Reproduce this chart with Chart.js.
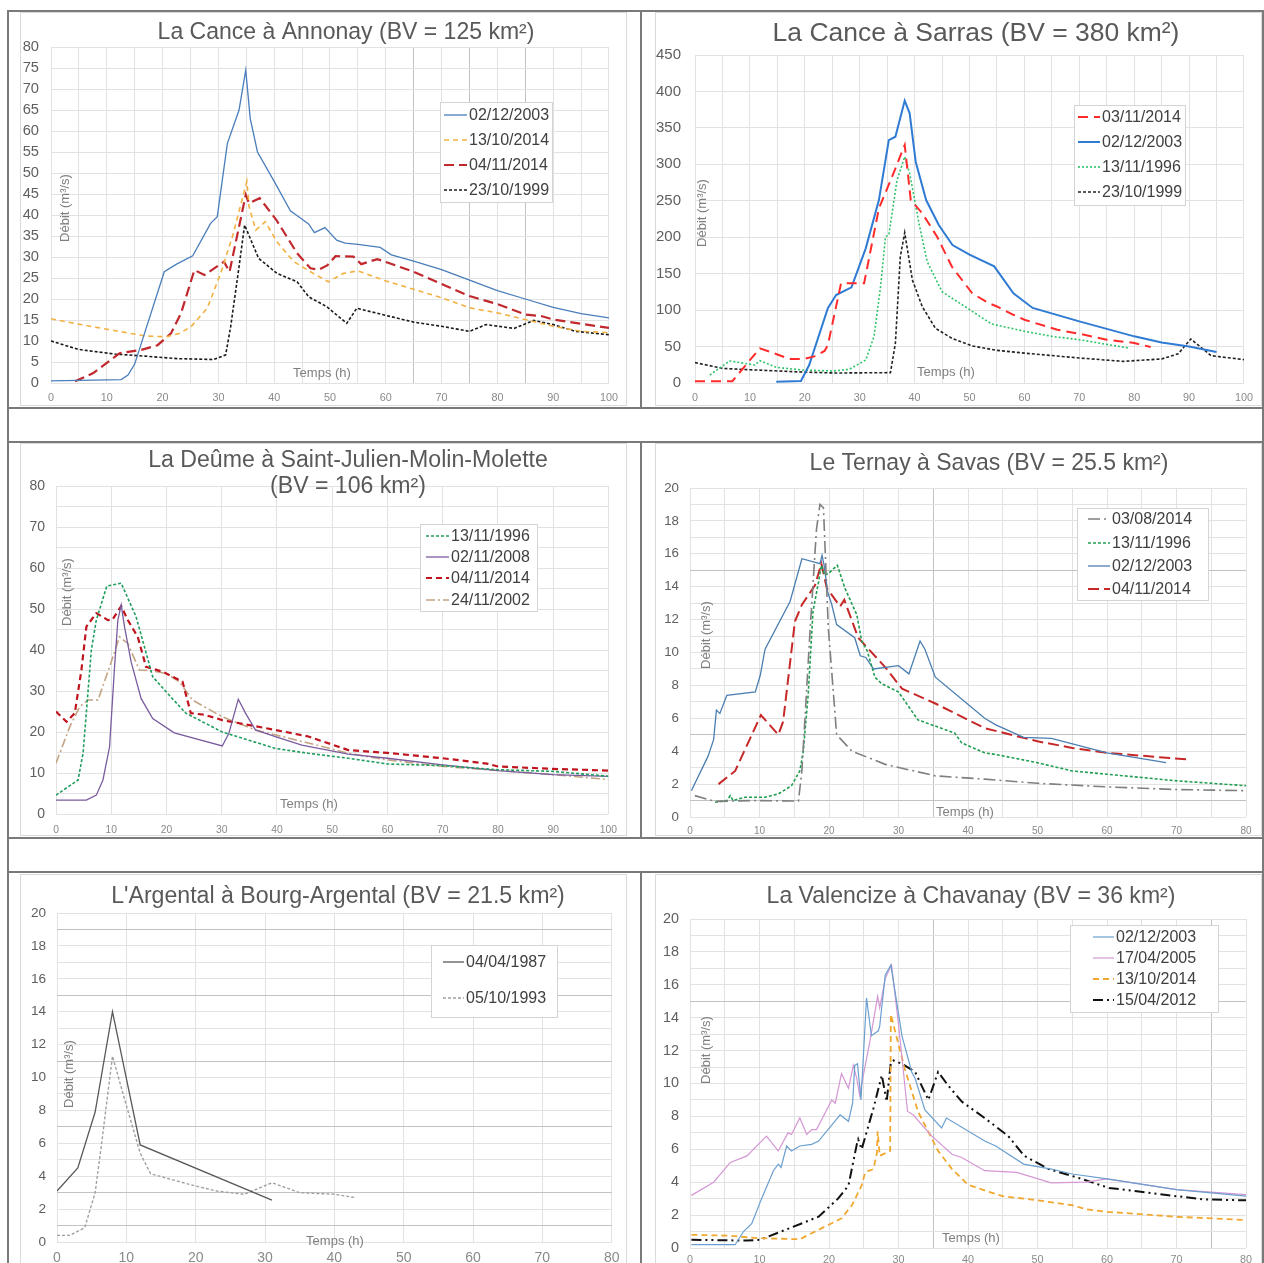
<!DOCTYPE html>
<html>
<head>
<meta charset="utf-8">
<script src="https://cdn.jsdelivr.net/npm/chart.js@4.4.1/dist/chart.umd.min.js"></script>
<style>
  html, body { margin: 0; padding: 0; background: #fff; }
  body { width: 1264px; height: 1263px; overflow: hidden; position: relative; }
  .rule { position: absolute; background: #7a7a7a; }
  .frame { position: absolute; border: 1px solid #dadada; box-sizing: border-box; }
  canvas { position: absolute; }
</style>
</head>
<body>
<div class="rule" style="left:7px;top:10px;width:1257px;height:2px"></div>
<div class="rule" style="left:7px;top:407px;width:1257px;height:2px"></div>
<div class="rule" style="left:7px;top:441px;width:1257px;height:2px"></div>
<div class="rule" style="left:7px;top:837px;width:1257px;height:2px"></div>
<div class="rule" style="left:7px;top:871px;width:1257px;height:2px"></div>
<div class="rule" style="left:7px;top:10px;width:2px;height:1253px"></div>
<div class="rule" style="left:1262px;top:10px;width:2px;height:1253px"></div>
<div class="rule" style="left:640px;top:10px;width:2px;height:399px"></div>
<div class="rule" style="left:640px;top:441px;width:2px;height:398px"></div>
<div class="rule" style="left:640px;top:871px;width:2px;height:392px"></div>

<canvas id="c1"></canvas>
<canvas id="c2"></canvas>
<canvas id="c3"></canvas>
<canvas id="c4"></canvas>
<canvas id="c5"></canvas>
<canvas id="c6"></canvas>

<script>
// --- La Cance à Annonay : [temps (h), débit (m3/s)]
const annonayDates = ['02/12/2003', '13/10/2014', '04/11/2014', '23/10/1999'];
const annonay2003 = [[0,0.5],[12.6,0.8],[13.8,1.9],[15,4.5],[20.3,26.5],[22.5,28.3],[25.4,30.3],[28.6,38],[29.8,39.6],[31.6,57],[33.7,65],[34.9,74.5],[35.7,63],[37,55],[40,48],[42.9,41],[45,39],[46.2,37.8],[47.2,35.8],[49.1,37],[51.2,34],[52.7,33.3],[55,33],[59,32.3],[61,30.5],[65,29],[70,27],[75,24.5],[80,22],[85,20],[90,18],[95,16.5],[100,15.5]];
const annonay2014oct = [[0,15.3],[5,14],[10,12.8],[16.8,11.2],[20.6,11],[23,11.8],[25.1,13.4],[28,17.8],[30.4,26.1],[32.5,34.8],[35.1,48],[35.5,42],[36.7,36.4],[38.4,38.4],[40.5,33.6],[43.5,28.9],[46.5,26.5],[49.7,24.1],[52.4,26.1],[55,26.7],[60,24.3],[65,22.3],[70,20.3],[75,17.9],[80,16.7],[85,15.1],[90,13.5],[95,12.3],[100,12]];
const annonay2014nov = [[4.3,0.4],[7.5,2.3],[12.3,7.1],[16.2,7.9],[19.1,9],[21.5,11.8],[23.3,16.6],[25.7,26.9],[27.5,25.7],[31,28.9],[32,26.5],[34.9,44.8],[35.5,42.8],[37.4,44],[40.4,38.8],[44.1,30.9],[46.5,27.3],[48,27],[49.5,28],[51,30.2],[54.2,30.1],[55.6,28.3],[58.5,29.5],[65,26.5],[70,23.6],[75,20.7],[80,18.8],[85,16.3],[88,15.9],[90,15.1],[100,13.1]];
const annonay1999 = [[0,10],[4.9,8],[11.4,6.9],[16.8,6.4],[22.7,5.8],[29.2,5.6],[31.3,6.7],[32.2,13.4],[33.7,27.7],[34.7,37.6],[37.2,29.7],[40.5,26.1],[44.1,24.1],[46.2,20.5],[49.4,18.2],[53,14.2],[54.8,17.8],[60,16.1],[65,14.5],[70,13.5],[75,12.3],[78,13.9],[83,13],[86.5,14.9],[90,13.9],[94,12.3],[100,11.5]];

// --- La Cance à Sarras
const sarrasDates = ['03/11/2014', '02/12/2003', '13/11/1996', '23/10/1999'];
const sarras2014 = [[0,2.5],[6.8,2.5],[11.8,47.6],[13.6,43],[17.2,33],[19.9,33],[22,37],[23.6,44],[24.2,52],[26.6,136.7],[30.8,136.7],[33.5,239.6],[35.9,283],[38.2,326.5],[39.3,251],[41.4,232.8],[44.1,200.7],[46.8,159.5],[50.5,123],[53.4,110],[55,105],[58,93.6],[60,86.8],[66,73],[70,67.6],[75,59.4],[80,55],[83,49.3]];
const sarras2003 = [[14.8,1.8],[19.3,2.7],[20.8,24.7],[24.2,102.5],[25.7,120.7],[28.5,131.2],[31.1,184.7],[33.5,251],[35.3,333.3],[36.5,337.9],[38.2,387.3],[39.1,370],[40.2,303.6],[42.1,251],[44.4,216.7],[46.9,189.3],[50,176],[54.5,160],[58,123],[61.5,103],[70,84.5],[80,64],[85,55.7],[90,50],[95,42.5]];
const sarras1996 = [[2.7,11],[6.3,30.2],[10.9,24.7],[11.8,30.6],[14.8,21.5],[19.6,17.8],[25.1,16.5],[28.1,18.8],[31.1,31.5],[32.6,63.5],[33.8,132],[34.7,200.7],[35.3,203],[36.8,278.5],[38.2,310.5],[39.1,287.6],[40.8,219],[42.3,166.4],[45,125.2],[49.2,104.7],[54,81],[60,71],[65,64],[70,59.4],[75,53],[79,48]];
const sarras1999 = [[0,28],[5.1,20],[11.2,17.8],[19.6,15],[25.6,13.7],[35.6,14.2],[36.5,54.5],[37.4,173.4],[38.2,206.3],[39.6,141.3],[41.4,104.7],[43.8,75],[46.8,61.3],[50.5,50.8],[55,44.8],[60,41],[70,34.3],[78,29.7],[85,33],[88,40],[90.3,60.3],[92,50],[94,37.5],[100,32]];

// --- La Deûme à Saint-Julien-Molin-Molette
const deumeDates = ['13/11/1996', '02/11/2008', '04/11/2014', '24/11/2002'];
const deume1996 = [[0,4.6],[4,8.3],[4.9,14.8],[6.4,40],[7.3,47.3],[9.2,55.6],[11.8,56.3],[14.5,48.1],[17.5,33.5],[20.2,29.4],[23.5,24.6],[30.1,20],[34.9,18],[39.7,16],[45.7,14.8],[52.9,13.6],[60,12.2],[70,11.8],[80,10.8],[90,10.4],[100,9.2]];
const deume2008 = [[0,3.4],[5.5,3.4],[7.3,4.6],[8.5,8.3],[9.7,16.4],[10.6,35.9],[11.2,47.3],[11.8,51],[12.4,45.7],[13.6,37.1],[15.4,28.2],[17.5,23.3],[21.4,19.8],[30.1,16.6],[31.3,19.7],[33,28],[34.3,24.6],[36.1,20.5],[39.7,18.9],[44.5,16.8],[52.9,14.6],[60,13.6],[70,12],[80,10.6],[90,9.6],[100,9.2]];
const deume2014 = [[0,25],[1.9,22.5],[3.4,24.6],[4.6,35.1],[5.5,45.7],[7.3,49],[9.4,47.3],[10.2,47.4],[11.8,50.7],[13,47.3],[14.8,43.2],[16.3,35.9],[19.3,34.7],[22.9,32.3],[24.4,24.6],[26.9,24.2],[30.1,22.9],[39.7,20.5],[45.7,18.9],[52.9,15.6],[60,14.9],[70,13.6],[78,12.3],[80,11.6],[90,11],[100,10.6]];
const deume2002 = [[0,12.4],[2.5,21.3],[4.3,26.2],[5.8,27.8],[7.6,27.8],[9.7,35.9],[11.5,43.2],[13,41.6],[15.1,35.1],[16.9,35],[19.9,34.3],[22.3,32.3],[24.7,27.8],[30.1,23.7],[36.1,20.5],[45.7,17.3],[52.9,14.8],[60,13.2],[70,11.6],[80,10.6],[90,9.6],[100,8.4]];

// --- Le Ternay à Savas
const ternayDates = ['03/08/2014', '13/11/1996', '02/12/2003', '04/11/2014'];
const ternay2014aug = [[0.7,1.3],[3.6,0.95],[8.9,1],[15.6,0.97],[16.1,2.8],[17.3,11.5],[18.2,17.5],[18.7,19],[19.2,18.8],[19.9,11.5],[21.1,5],[23.3,4],[28.1,3.2],[35.3,2.5],[42.4,2.3],[50,2.05],[60,1.83],[70,1.67],[80,1.6]];
const ternay1996 = [[3.6,0.9],[5.3,1],[5.8,1.3],[6.2,1],[7.9,1.2],[10.8,1.2],[12.7,1.4],[14.6,1.9],[15.8,2.8],[16.3,4],[17,7.4],[17.7,12.5],[18.5,14.3],[18.9,15.3],[19.4,14.7],[19.9,14.8],[21.2,15.3],[22.3,13.9],[24,12.3],[24.7,10.7],[25.5,10.1],[26.6,8.5],[27.6,8.1],[30,7.6],[32.8,5.9],[34.8,5.6],[38.1,5.1],[39.1,4.5],[42.4,3.9],[44,3.8],[50,3.3],[55,2.8],[60,2.6],[70,2.2],[80,1.9]];
const ternay2003 = [[0.2,1.6],[2.6,3.7],[3.4,4.7],[3.8,6.5],[4.3,6.3],[5.3,7.4],[9.4,7.6],[10.1,8.6],[10.8,10.2],[14.4,13.1],[16.1,15.7],[18.7,15.4],[19,15.9],[19.3,15.3],[19.8,13.7],[20.4,12.9],[21.1,11.7],[23.7,10.9],[24.5,9.8],[25.3,9.7],[26.4,9],[30,9.2],[31.5,8.7],[33.1,10.7],[33.8,10.2],[35.3,8.5],[42.4,6],[44,5.6],[48,4.84],[52,4.78],[60,3.9],[68.5,3.3]];
const ternay2014nov = [[4.1,2],[6.5,2.8],[10.2,6.2],[12.7,5],[13.4,5.8],[15.1,11.9],[16.1,12.9],[18,14.1],[18.9,15.4],[19.7,13.9],[21.6,12.8],[22.2,13.2],[24.2,10.9],[28.1,9.1],[30.5,7.8],[35.3,6.9],[42.4,5.4],[50,4.6],[55,4.2],[60,3.9],[71.5,3.5]];

// --- L'Argental à Bourg-Argental
const argentalDates = ['04/04/1987', '05/10/1993'];
const argental1987 = [[0,3.1],[3,4.5],[5.5,7.9],[8,14],[12,5.9],[31,2.55]];
const argental1993 = [[0,0.4],[1.8,0.4],[4,0.87],[5.5,3],[6.5,6.2],[8,11.3],[10,8.3],[12,5.4],[13.5,4.15],[20,3.4],[23,3.1],[27,2.9],[31,3.6],[35,3],[40,2.9],[43,2.7]];

// --- La Valencize à Chavanay
const valencizeDates = ['02/12/2003', '17/04/2005', '13/10/2014', '15/04/2012'];
const valencize2003 = [[0.2,0.2],[6.5,0.2],[7.7,1],[8.9,1.5],[10.3,3],[12,4.7],[12.7,5.1],[13.1,4.9],[13.9,6.2],[14.6,5.9],[15.8,6.2],[17.5,6.3],[18.5,6.5],[21.6,8.1],[22.8,7.7],[23.4,8.8],[23.7,11.1],[24.1,11.2],[24.6,9],[25.4,15.2],[26.1,12.9],[27.1,13.2],[27.3,13.5],[28.1,16.6],[28.9,17.2],[29.5,15.6],[30.5,12.9],[31.9,10.7],[32.4,10.3],[33.8,8.4],[36.2,7.3],[36.9,7.9],[42.4,6.5],[44,6.2],[48,5.1],[52,4.8],[55,4.5],[60,4.2],[70,3.55],[80,3.15]];
const valencize2005 = [[0.2,3.2],[3.4,4],[5.8,5.2],[8.2,5.6],[11,6.8],[12.7,5.9],[14.1,7],[14.6,6.9],[15.8,7.9],[16.8,6.9],[17.5,7.2],[18.2,7.2],[20.4,9],[20.9,8.8],[21.8,10.6],[22.8,9.7],[23.5,11.1],[24,10.3],[24.4,9.3],[25.9,12.6],[27,15.3],[27.3,14.6],[28.1,16.4],[29,17.2],[30,13.6],[31.3,8.3],[32.1,8.1],[34.8,6.8],[37.7,5.7],[39.1,5.5],[42.4,4.7],[47,4.6],[52,3.96],[57,4],[60,4.2],[70,3.55],[80,3.25]];
const valencize2014 = [[0.2,0.8],[5.5,0.75],[9.8,0.6],[15.8,0.53],[17.5,0.9],[19.9,1.4],[21.8,1.8],[23.3,2.6],[24.7,3.8],[25.2,4.6],[26.4,4.8],[26.9,5.8],[27,7.1],[27.3,5.6],[28.8,5.9],[28.9,14.2],[29.5,13.2],[30.9,10.9],[32.8,8.3],[35.7,5.9],[37.7,4.8],[40,3.85],[42.4,3.5],[45,3.15],[50,2.9],[55,2.6],[57,2.35],[60,2.2],[70,1.9],[80,1.7]];
const valencize2012 = [[0.2,0.5],[8.2,0.45],[10.1,0.5],[13.7,1.1],[18.5,1.9],[21.3,3],[22.8,3.8],[24,6.3],[24.2,6.6],[24.7,6],[26.4,8.5],[27.6,10.5],[28.3,8.9],[28.9,11.3],[29.3,11.4],[30.5,11.2],[32.4,10.7],[34.3,9],[35.7,10.7],[37.1,9.9],[39.1,8.9],[42.4,7.9],[45.8,6.8],[48.1,5.6],[51.6,4.8],[55.6,4.3],[60.3,3.65],[64.3,3.45],[70,3.15],[74.1,2.95],[80,2.9]];

const yTitleText = 'Débit (m³/s)';
const xTitleText = 'Temps (h)';

const FONT = '"Liberation Sans", Arial, sans-serif';
const GRID = '#e2e2e2';
const GRID_DARK = '#c2c2c2';

// titles, axis names and legend box drawn at page coordinates
const overlay = {
  id: 'overlay',
  afterDraw(chart, args, o) {
    const ctx = chart.ctx;
    const ox = o.box.x, oy = o.box.y;
    ctx.save();
    ctx.textBaseline = 'middle';

    ctx.fillStyle = '#595959';
    ctx.textAlign = 'center';
    o.title.forEach(t => {
      ctx.font = '20px ' + FONT;
      const size = 20 * t.w / ctx.measureText(t.text).width;
      ctx.font = size.toFixed(2) + 'px ' + FONT;
      ctx.fillText(t.text, t.x - ox, t.y - oy);
    });

    ctx.fillStyle = '#7f7f7f';
    ctx.font = '13px ' + FONT;
    ctx.fillText(xTitleText, o.xTitle.x - ox, o.xTitle.y - oy);
    ctx.save();
    ctx.translate(o.yTitle.x - ox, o.yTitle.y - oy);
    ctx.rotate(-Math.PI / 2);
    ctx.fillText(yTitleText, 0, 0);
    ctx.restore();

    const lg = o.legend;
    ctx.fillStyle = '#fff';
    ctx.strokeStyle = '#d4d4d4';
    ctx.lineWidth = 1;
    ctx.fillRect(lg.box[0] - ox, lg.box[1] - oy, lg.box[2], lg.box[3]);
    ctx.strokeRect(lg.box[0] - ox + 0.5, lg.box[1] - oy + 0.5, lg.box[2], lg.box[3]);
    ctx.textAlign = 'left';
    ctx.font = lg.size + 'px ' + FONT;
    chart.data.datasets.forEach((ds, i) => {
      const y = lg.rows[i] - oy;
      ctx.setLineDash(ds.borderDash || []);
      ctx.strokeStyle = ds.borderColor;
      ctx.lineWidth = ds.borderWidth;
      ctx.beginPath();
      ctx.moveTo(lg.x1 - ox, y);
      ctx.lineTo(lg.x2 - ox, y);
      ctx.stroke();
      ctx.setLineDash([]);
      ctx.fillStyle = '#404040';
      ctx.fillText(ds.label, lg.tx - ox, y + 1);
    });
    ctx.restore();
  }
};

function makeChart(spec) {
  const box = spec.box;
  const canvas = document.getElementById(spec.id);
  canvas.width = box.w;
  canvas.height = box.h;
  canvas.style.left = box.x + 'px';
  canvas.style.top = box.y + 'px';

  const frame = document.createElement('div');
  frame.className = 'frame';
  frame.style.left = box.x + 'px';
  frame.style.top = box.y + 'px';
  frame.style.width = box.w + 'px';
  frame.style.height = box.fh + 'px';
  document.body.insertBefore(frame, canvas);

  const L = spec.area[0] - box.x, T = spec.area[1] - box.y;
  const R = spec.area[2] - box.x, B = spec.area[3] - box.y;

  const axis = (a, fit, color) => ({
    type: 'linear',
    min: 0,
    max: a.max,
    border: { display: false },
    grid: {
      drawTicks: false,
      color: c => (a.dark || []).includes(c.tick && c.tick.value) ? GRID_DARK : GRID
    },
    ticks: {
      stepSize: a.step,
      autoSkip: false,
      maxRotation: 0,
      padding: a.pad,
      color: color,
      font: { family: FONT, size: a.font },
      callback: v => (v % a.label === 0 ? v : '')
    },
    afterFit: fit
  });

  return new Chart(canvas, {
    type: 'line',
    data: {
      datasets: spec.series.map(s => ({
        label: s.label,
        data: s.data.map(p => ({ x: p[0], y: p[1] })),
        borderColor: s.color,
        borderWidth: s.width,
        borderDash: s.dash || [],
        pointRadius: 0,
        fill: false,
        tension: 0
      }))
    },
    options: {
      responsive: false,
      animation: false,
      devicePixelRatio: 1,
      layout: { padding: { left: 0, top: T, right: box.w - R, bottom: 0 } },
      plugins: {
        legend: { display: false },
        title: { display: false },
        tooltip: { enabled: false },
        overlay: spec
      },
      scales: {
        x: axis(spec.x, s => { s.height = box.h - B; }, '#8a8a8a'),
        y: axis(spec.y, s => { s.width = L; }, '#5f5f5f')
      }
    },
    plugins: [overlay]
  });
}

makeChart({
  id: 'c1', box: { x: 20, y: 12, w: 607, h: 394, fh: 394 }, area: [51, 47, 612, 383],
  x: { max: 100, step: 5, label: 10, font: 10.8, pad: 9, dark: [65, 75, 85] },
  y: { max: 80, step: 5, label: 5, font: 14.7, pad: 12 },
  title: [{ text: 'La Cance à Annonay (BV = 125 km²)', x: 346, y: 33, w: 377 }],
  yTitle: { x: 65, y: 208 }, xTitle: { x: 322, y: 373 },
  legend: { box: [440, 102, 112, 100], rows: [115, 140, 165, 190], x1: 444, x2: 467, tx: 469, size: 16 },
  series: [
    { label: annonayDates[0], data: annonay2003, color: '#4a7ebb', width: 1.3 },
    { label: annonayDates[1], data: annonay2014oct, color: '#f2b142', width: 1.6, dash: [5, 4] },
    { label: annonayDates[2], data: annonay2014nov, color: '#c0282d', width: 2.2, dash: [10, 5] },
    { label: annonayDates[3], data: annonay1999, color: '#1a1a1a', width: 1.6, dash: [3, 2] }
  ]
});

makeChart({
  id: 'c2', box: { x: 655, y: 12, w: 607, h: 394, fh: 394 }, area: [695, 55, 1247, 383],
  x: { max: 100, step: 5, label: 10, font: 10.8, pad: 9 },
  y: { max: 450, step: 50, label: 50, font: 15, pad: 14 },
  title: [{ text: 'La Cance à Sarras (BV = 380 km²)', x: 976, y: 34, w: 407 }],
  yTitle: { x: 702, y: 213 }, xTitle: { x: 946, y: 372 },
  legend: { box: [1074, 105, 111, 100], rows: [117, 142, 167, 192], x1: 1078, x2: 1100, tx: 1102, size: 16 },
  series: [
    { label: sarrasDates[0], data: sarras2014, color: '#ff2b2b', width: 2, dash: [10, 6] },
    { label: sarrasDates[1], data: sarras2003, color: '#2f7bd4', width: 2 },
    { label: sarrasDates[2], data: sarras1996, color: '#2fc46a', width: 1.6, dash: [2, 2] },
    { label: sarrasDates[3], data: sarras1999, color: '#222222', width: 1.6, dash: [3, 2] }
  ]
});

makeChart({
  id: 'c3', box: { x: 20, y: 443, w: 607, h: 393, fh: 393 }, area: [56, 486, 612, 814],
  x: { max: 100, step: 10, label: 10, font: 10.3, pad: 10 },
  y: { max: 80, step: 5, label: 10, font: 14, pad: 11 },
  title: [
    { text: 'La Deûme à Saint-Julien-Molin-Molette', x: 348, y: 461, w: 400 },
    { text: '(BV = 106 km²)', x: 348, y: 487, w: 156 }
  ],
  yTitle: { x: 67, y: 592 }, xTitle: { x: 309, y: 804 },
  legend: { box: [420, 524, 117, 87], rows: [536, 557, 578, 600], x1: 426, x2: 449, tx: 451, size: 16 },
  series: [
    { label: deumeDates[0], data: deume1996, color: '#1f9e5e', width: 1.6, dash: [3, 2] },
    { label: deumeDates[1], data: deume2008, color: '#7a5c9e', width: 1.3 },
    { label: deumeDates[2], data: deume2014, color: '#c0141e', width: 2.2, dash: [6, 4] },
    { label: deumeDates[3], data: deume2002, color: '#c4a484', width: 1.6, dash: [9, 3, 2, 3] }
  ]
});

makeChart({
  id: 'c4', box: { x: 655, y: 443, w: 607, h: 393, fh: 393 }, area: [690, 488, 1246, 817],
  x: { max: 80, step: 5, label: 10, font: 10, pad: 8.5, dark: [35] },
  y: { max: 20, step: 1, label: 2, font: 13.3, pad: 11, dark: [1, 5, 15] },
  title: [{ text: 'Le Ternay à Savas (BV = 25.5 km²)', x: 989, y: 464, w: 359 }],
  yTitle: { x: 706, y: 635 }, xTitle: { x: 965, y: 812 },
  legend: { box: [1077, 508, 131, 92], rows: [519, 543, 566, 589], x1: 1088, x2: 1110, tx: 1112, size: 16 },
  series: [
    { label: ternayDates[0], data: ternay2014aug, color: '#7f7f7f', width: 1.6, dash: [12, 4, 2, 4] },
    { label: ternayDates[1], data: ternay1996, color: '#1f9e50', width: 1.6, dash: [3, 2] },
    { label: ternayDates[2], data: ternay2003, color: '#4a7eb0', width: 1.3 },
    { label: ternayDates[3], data: ternay2014nov, color: '#c62828', width: 2, dash: [11, 5] }
  ]
});

makeChart({
  id: 'c5', box: { x: 20, y: 874, w: 607, h: 400, fh: 400 }, area: [57, 913, 614, 1242],
  x: { max: 80, step: 10, label: 10, font: 14, pad: 7.5 },
  y: { max: 20, step: 1, label: 2, font: 13.6, pad: 11, dark: [1, 3, 7, 11, 15, 19] },
  title: [{ text: "L'Argental à Bourg-Argental (BV = 21.5 km²)", x: 338, y: 897, w: 454 }],
  yTitle: { x: 69, y: 1074 }, xTitle: { x: 335, y: 1241 },
  legend: { box: [431, 945, 126, 72], rows: [962, 998], x1: 443, x2: 464, tx: 466, size: 16 },
  series: [
    { label: argentalDates[0], data: argental1987, color: '#595959', width: 1.3 },
    { label: argentalDates[1], data: argental1993, color: '#a0a0a0', width: 1.4, dash: [3, 2] }
  ]
});

makeChart({
  id: 'c6', box: { x: 655, y: 874, w: 607, h: 400, fh: 400 }, area: [690, 919, 1246, 1248],
  x: { max: 80, step: 5, label: 10, font: 10.8, pad: 5.5, dark: [35, 75] },
  y: { max: 20, step: 1, label: 2, font: 14.4, pad: 11, dark: [15] },
  title: [{ text: 'La Valencize à Chavanay (BV = 36 km²)', x: 971, y: 897, w: 409 }],
  yTitle: { x: 706, y: 1050 }, xTitle: { x: 971, y: 1238 },
  legend: { box: [1070, 925, 148, 87], rows: [937, 958, 979, 1000], x1: 1093, x2: 1114, tx: 1116, size: 16 },
  series: [
    { label: valencizeDates[0], data: valencize2003, color: '#6a9fcf', width: 1.2 },
    { label: valencizeDates[1], data: valencize2005, color: '#d497d4', width: 1.2 },
    { label: valencizeDates[2], data: valencize2014, color: '#f0a830', width: 1.8, dash: [6, 4] },
    { label: valencizeDates[3], data: valencize2012, color: '#111111', width: 2, dash: [10, 4, 2, 4, 2, 4] }
  ]
});
</script>
</body>
</html>
